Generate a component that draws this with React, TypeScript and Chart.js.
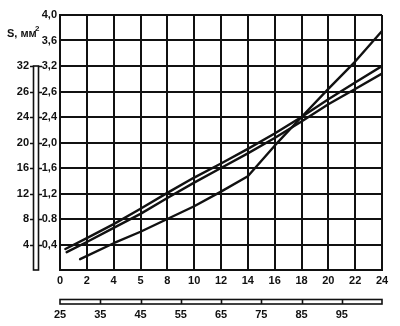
import React, { useEffect, useRef } from 'react';
import { Chart, registerables } from 'chart.js';

Chart.register(...registerables);

// ---- data ----
const xTickValues = [0, 2, 4, 6, 8, 10, 12, 14, 16, 18, 20, 22, 24];
const xTickLabels = ['0', '2', '4', '5', '8', '10', '12', '14', '16', '18', '20', '22', '24'];
const yTickValues = [0, 0.4, 0.8, 1.2, 1.6, 2.0, 2.4, 2.8, 3.2, 3.6, 4.0];
const yTickLabels = ['', '0,4', '0.8', '1,2', '1,6', '2,0', '2,4', '2,6', '3,2', '3,6', '4,0'];
const y2TickValues = [4, 8, 12, 16, 20, 24, 28, 32];
const y2TickLabels = ['4', '8', '12', '16', '20', '24', '26', '32'];
const x2TickValues = [25, 35, 45, 55, 65, 75, 85, 95, 105];
const x2TickLabels = ['25', '35', '45', '55', '65', '75', '85', '95', ''];

const lineAx = [0.4, 2, 4, 6, 8, 10, 12, 14, 16, 18, 20, 22, 24];
const lineAy = [0.33, 0.5, 0.72, 0.96, 1.21, 1.45, 1.67, 1.9, 2.14, 2.4, 2.68, 2.94, 3.2];
const lineBx = [0.5, 2, 4, 6, 8, 10, 12, 14, 16, 18, 20, 22, 24];
const lineBy = [0.28, 0.44, 0.66, 0.88, 1.13, 1.37, 1.6, 1.83, 2.07, 2.33, 2.6, 2.84, 3.08];
const lineCx = [1.5, 4, 6, 8, 10, 12, 14, 16, 18, 20, 22, 24];
const lineCy = [0.17, 0.42, 0.6, 0.8, 1.0, 1.23, 1.47, 1.95, 2.4, 2.84, 3.27, 3.75];

const INK = '#111111';
const FONT = "'Liberation Sans', Arial, sans-serif";

const pts = (xs: number[], ys: number[]) => xs.map((x, i) => ({ x, y: ys[i] }));

const decor = {
  id: 'decor',
  afterDraw(chart: any) {
    const ctx = chart.ctx;
    const y = chart.scales.y;
    const y2 = chart.scales.y2;
    const x2 = chart.scales.x2;
    ctx.save();
    ctx.strokeStyle = INK;
    ctx.fillStyle = INK;
    ctx.lineWidth = 1.6;
    // left double bar
    const bl = y.left + 3.5;
    const br = y.left + 8.5;
    const bt = y2.getPixelForValue(32);
    const bb = y2.getPixelForValue(0);
    ctx.strokeRect(bl, bt, br - bl, bb - bt);
    ctx.beginPath();
    y2TickValues.forEach((v) => {
      const p = Math.round(y2.getPixelForValue(v)) + 0.5;
      ctx.moveTo(bl - 3.5, p);
      ctx.lineTo(bl, p);
      ctx.moveTo(br, p);
      ctx.lineTo(br + 3.5, p);
    });
    ctx.stroke();
    // bottom double bar
    const l = x2.getPixelForValue(25);
    const r = x2.getPixelForValue(105);
    const t = x2.top + 9.5;
    const b = x2.top + 14;
    ctx.strokeRect(l, t, r - l, b - t);
    ctx.beginPath();
    x2TickValues.slice(1, -1).forEach((v) => {
      const p = Math.round(x2.getPixelForValue(v)) + 0.5;
      ctx.moveTo(p, t);
      ctx.lineTo(p, b);
    });
    ctx.stroke();
    // title
    ctx.textBaseline = 'alphabetic';
    ctx.textAlign = 'left';
    ctx.font = `bold 11px ${FONT}`;
    ctx.fillText('S, мм', 7, 37);
    ctx.font = `bold 8px ${FONT}`;
    ctx.fillText('2', 35, 31);
    ctx.restore();
  },
};

export default function App() {
  const ref = useRef<HTMLCanvasElement | null>(null);
  useEffect(() => {
    if (!ref.current) return;
    const tickFont = { family: FONT, size: 11, weight: 'bold' as const };
    const line = (data: any) => ({
      data,
      borderColor: INK,
      borderWidth: 2.4,
      pointRadius: 0,
      tension: 0,
      borderCapStyle: 'round' as const,
      borderJoinStyle: 'round' as const,
      fill: false,
    });
    const chart = new Chart(ref.current, {
      type: 'line',
      data: {
        datasets: [line(pts(lineAx, lineAy)), line(pts(lineBx, lineBy)), line(pts(lineCx, lineCy))],
      },
      options: {
        animation: false,
        responsive: false,
        events: [],
        layout: { padding: { top: 15, right: 8, left: 0, bottom: 0 } },
        plugins: { legend: { display: false }, tooltip: { enabled: false } },
        scales: {
          x: {
            type: 'linear',
            position: 'bottom',
            weight: 0,
            min: 0,
            max: 24,
            afterBuildTicks: (s: any) => {
              s.ticks = xTickValues.map((v) => ({ value: v }));
            },
            afterFit: (s: any) => {
              s.height = 20;
            },
            grid: { color: INK, lineWidth: 2, drawTicks: false },
            border: { color: INK, width: 2 },
            ticks: {
              autoSkip: false,
              maxRotation: 0,
              padding: 4,
              color: INK,
              font: tickFont,
              callback: (_v: any, i: number) => xTickLabels[i],
            },
          },
          x2: {
            type: 'linear',
            position: 'bottom',
            weight: 1,
            min: 25,
            max: 105,
            afterBuildTicks: (s: any) => {
              s.ticks = x2TickValues.map((v) => ({ value: v }));
            },
            afterFit: (s: any) => {
              s.height = 36;
            },
            grid: { display: false, drawTicks: false },
            border: { display: false },
            ticks: {
              autoSkip: false,
              maxRotation: 0,
              padding: 18,
              color: INK,
              font: tickFont,
              callback: (_v: any, i: number) => x2TickLabels[i],
            },
          },
          y: {
            type: 'linear',
            position: 'left',
            weight: 0,
            min: 0,
            max: 4,
            afterBuildTicks: (s: any) => {
              s.ticks = yTickValues.map((v) => ({ value: v }));
            },
            afterFit: (s: any) => {
              s.width = 30;
            },
            grid: { color: INK, lineWidth: 2, drawTicks: false },
            border: { color: INK, width: 2 },
            ticks: {
              autoSkip: false,
              padding: 3,
              color: INK,
              font: tickFont,
              callback: (_v: any, i: number) => yTickLabels[i],
            },
          },
          y2: {
            type: 'linear',
            position: 'left',
            weight: 1,
            min: 0,
            max: 40,
            afterBuildTicks: (s: any) => {
              s.ticks = y2TickValues.map((v) => ({ value: v }));
            },
            afterFit: (s: any) => {
              s.width = 30;
            },
            grid: { display: false, drawTicks: false },
            border: { display: false },
            ticks: {
              autoSkip: false,
              padding: 1,
              color: INK,
              font: tickFont,
              callback: (_v: any, i: number) => y2TickLabels[i],
            },
          },
        },
      },
      plugins: [decor],
    });
    return () => chart.destroy();
  }, []);
  return (
    <div style={{ position: 'fixed', left: 0, top: 0, width: 400, height: 326, background: '#fff' }}>
      <canvas ref={ref} width={400} height={326} style={{ display: 'block' }} />
    </div>
  );
}
